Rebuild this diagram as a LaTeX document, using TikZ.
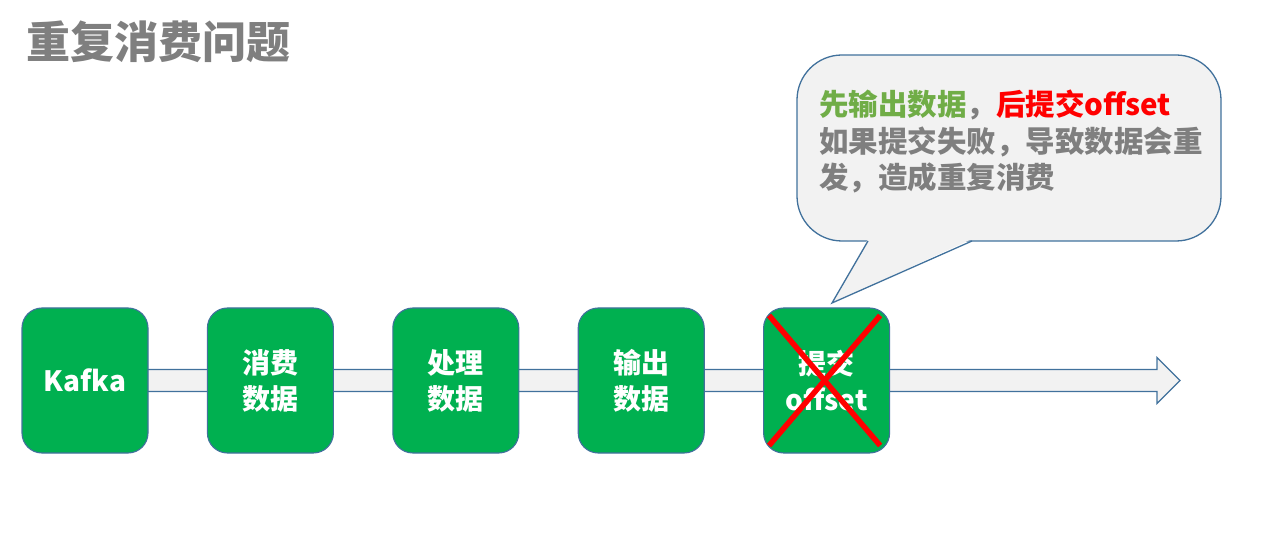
\documentclass[tikz,border=0pt]{standalone}
\usepackage{fontspec}
\setmainfont{Noto Sans CJK SC}
\usetikzlibrary{positioning,calc}
\definecolor{boxgreen}{HTML}{00B050}
\definecolor{edgeblue}{HTML}{41719C}
\definecolor{bandgray}{HTML}{F2F2F2}
\definecolor{txtgray}{HTML}{7F7F7F}
\definecolor{txtgreen}{HTML}{70AD47}
\tikzset{ stage/.style = { rectangle % step box
, rounded corners = 20pt
, draw = edgeblue
, line width = 1.1pt
, fill = boxgreen
, minimum width = 126pt
, minimum height = 145pt
, align = center
, text = white
, font = \bfseries\fontsize{28}{36}\selectfont
}
, band/.style = { fill = bandgray % flow arrow
, draw = edgeblue
, line width = 1.1pt
}
, cross/.style = { red % crossed out
, line width = 5.5pt
}
}
\begin{document}
\begin{tikzpicture}[x=1pt, y=-1pt, node distance=58.3pt]
\useasboundingbox (0,0) rectangle (1278,548);
\node[anchor=west, text=txtgray, font=\bfseries\fontsize{44}{50}\selectfont] (title) at (23,42) {重复消费问题};

% flow band behind the steps
\coordinate (kc) at (85,380.5);
\coordinate (tip) at (1180,380.5);
\draw[band] ($(kc)+(0,-11)$) -- ($(tip)+(-23,-11)$) -- ($(tip)+(-23,-23)$) -- (tip)
            -- ($(tip)+(-23,23)$) -- ($(tip)+(-23,11)$) -- ($(kc)+(0,11)$) -- cycle;

\node[stage] (kafka) at (kc) {Kafka};
\node[stage, right=of kafka] (consume) {消费\\数据};
\node[stage, right=of consume] (process) {处理\\数据};
\node[stage, right=of process] (output) {输出\\数据};
\node[stage, right=of output] (commit) {提交\\offset};

% cross over the commit step
\draw[cross] ($(commit.north west)+(6,8)$) -- ($(commit.south east)+(-10,-8)$);
\draw[cross] ($(commit.north east)+(-10,8)$) -- ($(commit.south west)+(6,-8)$);

% callout
\coordinate (ptr) at (832,303);
\draw[fill=bandgray, draw=edgeblue, line width=1.3pt, rounded corners=45pt] (797,55) rectangle (1221,241);
\fill[bandgray] (868,239) -- (ptr) -- (972,239) -- cycle;
\draw[edgeblue, line width=1.3pt] (868,241) -- (ptr) -- (972,241);
\node[anchor=north west, align=left, text=txtgray, inner sep=0pt,
      font=\bfseries\fontsize{29.5}{36.5}\selectfont] (note) at (819,90)
  {\textcolor{txtgreen}{先输出数据}，\textcolor{red}{后提交offset}\\
   如果提交失败，导致数据会重\\
   发，造成重复消费};
\end{tikzpicture}
\end{document}
